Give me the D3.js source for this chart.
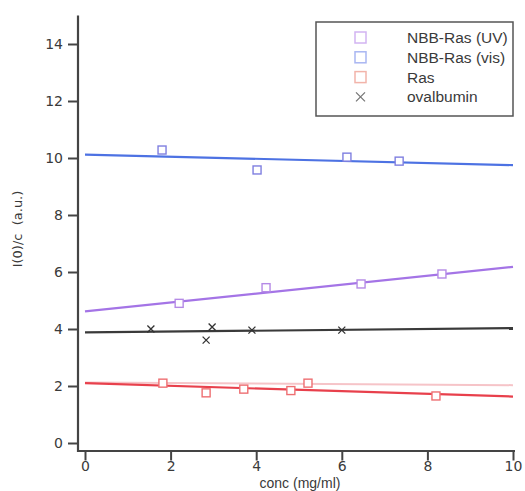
<!DOCTYPE html>
<html><head><meta charset="utf-8">
<script src="https://cdn.jsdelivr.net/npm/d3@7"></script>
<style>body{margin:0;background:#fff}svg{display:block}</style>
</head><body><svg id="c" width="525" height="491"></svg>
<script>
// ---- data ----
const seriesNames = ["NBB-Ras (UV)", "NBB-Ras (vis)", "Ras", "ovalbumin"];
const uvX = [2.2, 4.23, 6.45, 8.34];
const uvY = [4.9, 5.45, 5.58, 5.93];
const visX = [1.8, 4.02, 6.12, 7.34];
const visY = [10.28, 9.58, 10.03, 9.89];
const rasX = [1.82, 2.83, 3.71, 4.81, 5.21, 8.2];
const rasY = [2.1, 1.76, 1.89, 1.84, 2.1, 1.65];
const ovaX = [1.54, 2.97, 2.83, 3.9, 6.0];
const ovaY = [4.0, 4.07, 3.61, 3.96, 3.96];
const fitX = [0, 10];
const uvFit = [4.62, 6.18];
const visFit = [10.12, 9.75];
const rasFit = [2.1, 1.63];
const rasFit2 = [2.12, 2.03];
const ovaFit = [3.88, 4.03];
const xTicks = [0, 2, 4, 6, 8, 10];
const yTicks = [0, 2, 4, 6, 8, 10, 12, 14];

// ---- setup ----
const svg = d3.select("#c");
const x = d3.scaleLinear().domain([0, 10]).range([85, 513]);
const y = d3.scaleLinear().domain([0, 15]).range([443, 15.5]);
const axisX0 = 78, axisY0 = 451;
const axisColor = "#444";
const font = "DejaVu Sans, Verdana, sans-serif";
const font2 = "Liberation Sans, Arial, sans-serif";

// axes
const gx = svg.append("g").attr("transform", `translate(0,${axisY0})`)
  .call(d3.axisBottom(x).tickValues(xTicks).tickFormat(d3.format("d")).tickSize(9.5).tickPadding(1));
const gy = svg.append("g").attr("transform", `translate(${axisX0},0)`)
  .call(d3.axisLeft(y).tickValues(yTicks).tickFormat(d3.format("d")).tickSize(10).tickPadding(5));
[gx, gy].forEach(g => {
  g.select(".domain").remove();
  g.selectAll(".tick line").attr("stroke", axisColor).attr("stroke-width", 2);
  g.selectAll(".tick text").attr("fill", "#3a3a3a").style("font-family", font).style("font-size", "14px");
});
svg.append("line").attr("x1", axisX0).attr("x2", axisX0).attr("y1", y(15)).attr("y2", axisY0 + 1)
  .attr("stroke", axisColor).attr("stroke-width", 2.2);
svg.append("line").attr("x1", axisX0 - 1).attr("x2", x(10) + 2).attr("y1", axisY0).attr("y2", axisY0)
  .attr("stroke", axisColor).attr("stroke-width", 2.2);

// axis labels
svg.append("text").attr("x", 300).attr("y", 488.2).attr("text-anchor", "middle")
  .attr("fill", "#3a3a3a").style("font-family", font2).style("font-size", "14px").text("conc (mg/ml)");
svg.append("text").attr("transform", `translate(22,229) rotate(-90)`).attr("text-anchor", "middle")
  .attr("fill", "#3a3a3a").style("font-family", font).style("font-size", "13px")
  .style("white-space", "pre").text("I(0)/c  (a.u.)");

// fit lines
const line = d3.line().x(d => x(d[0])).y(d => y(d[1]));
const fits = [
  {v: rasFit2, c: "#f6c4c8", w: 2},
  {v: visFit, c: "#4d72e3", w: 2.2},
  {v: uvFit, c: "#a474e6", w: 2.2},
  {v: ovaFit, c: "#3a3a3a", w: 2.2},
  {v: rasFit, c: "#e8404c", w: 2.2}
];
fits.forEach(f => {
  svg.append("path").datum(fitX.map((xv, i) => [xv, f.v[i]]))
    .attr("d", line).attr("fill", "none").attr("stroke", f.c).attr("stroke-width", f.w);
});

// markers
function squares(xs, ys, col) {
  svg.append("g").selectAll("rect").data(xs.map((xv, i) => [xv, ys[i]])).join("rect")
    .attr("x", d => x(d[0]) - 4).attr("y", d => y(d[1]) - 4).attr("width", 8).attr("height", 8)
    .attr("fill", "#fff").attr("stroke", col).attr("stroke-width", 1.4);
}
squares(visX, visY, "#7f7fe0");
squares(uvX, uvY, "#b58ae6");
squares(rasX, rasY, "#ee6f72");
svg.append("g").selectAll("path").data(ovaX.map((xv, i) => [xv, ovaY[i]])).join("path")
  .attr("d", d => { const cx = x(d[0]), cy = y(d[1]), s = 3.5; return `M${cx-s},${cy-s}L${cx+s},${cy+s}M${cx-s},${cy+s}L${cx+s},${cy-s}`; })
  .attr("stroke", "#333").attr("stroke-width", 1.3).attr("fill", "none");

// legend
const leg = svg.append("g");
leg.append("rect").attr("x", 316).attr("y", 22).attr("width", 197).attr("height", 94)
  .attr("fill", "#fff").attr("stroke", "#555").attr("stroke-width", 1.5);
const legCols = ["#d2b4f2", "#a9b6f2", "#f2b4aa", "#777"];
seriesNames.forEach((name, i) => {
  const cy = 37.5 + i * 19.8;
  if (i < 3) {
    leg.append("rect").attr("x", 355).attr("y", cy - 5.5).attr("width", 11).attr("height", 11)
      .attr("fill", "#fff").attr("stroke", legCols[i]).attr("stroke-width", 1.5);
  } else {
    const s = 4.5, cx = 360.5;
    leg.append("path").attr("d", `M${cx-s},${cy-s}L${cx+s},${cy+s}M${cx-s},${cy+s}L${cx+s},${cy-s}`)
      .attr("stroke", legCols[i]).attr("stroke-width", 1.3);
  }
  leg.append("text").attr("x", 407).attr("y", cy + 5.5).attr("fill", "#3a3a3a")
    .style("font-family", font2).style("font-size", "15.5px").text(name);
});
</script></body></html>
